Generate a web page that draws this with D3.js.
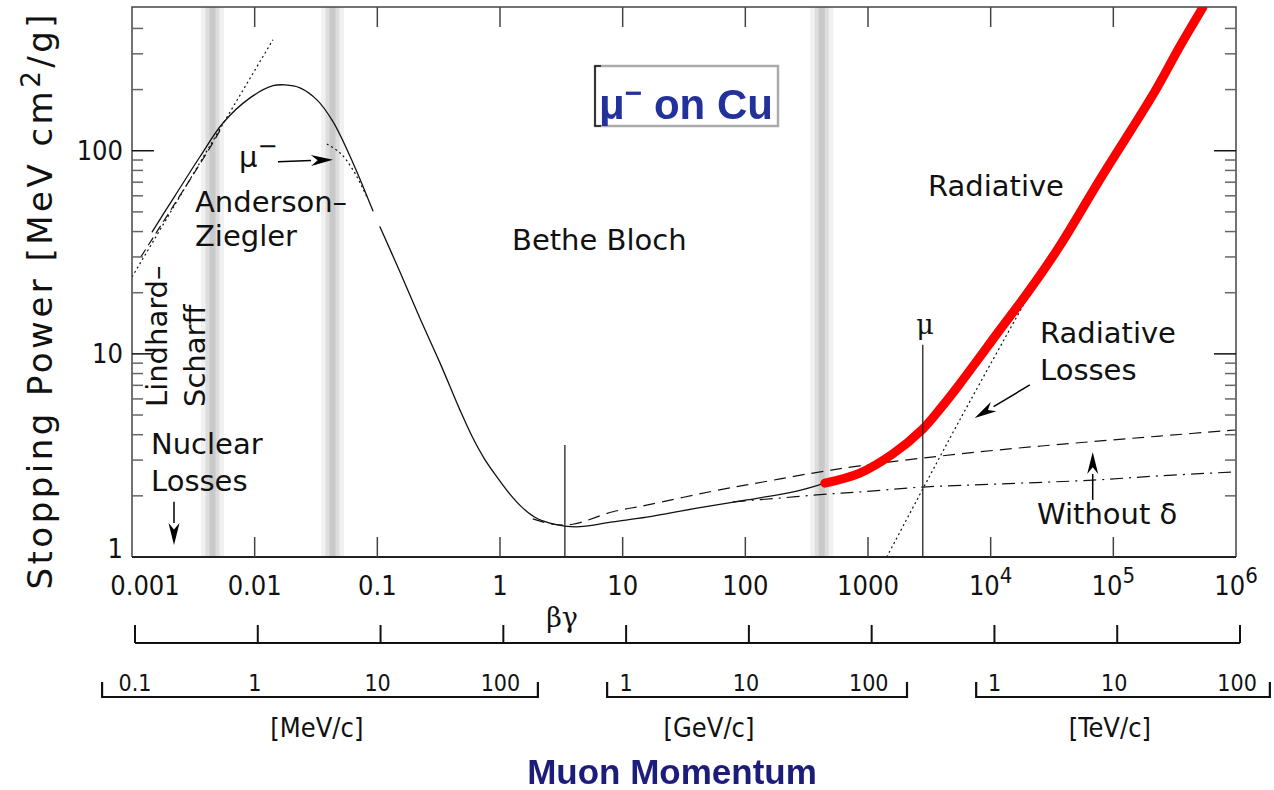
<!DOCTYPE html>
<html>
<head>
<meta charset="utf-8">
<script src="https://cdn.jsdelivr.net/npm/d3@7"></script>
<style>
body { margin: 0; background: #fff; }
svg { display: block; }
.tlabel { font-family: "DejaVu Sans Condensed", "DejaVu Sans", sans-serif; font-size: 27px; fill: #111; }
.plabel { font-family: "DejaVu Sans Condensed", "DejaVu Sans", sans-serif; font-size: 23px; fill: #111; }
.note { font-family: "DejaVu Sans", sans-serif; font-size: 29px; fill: #111; }
.serif { font-family: "DejaVu Serif", "Liberation Serif", serif; font-size: 27px; fill: #111; }
</style>
</head>
<body>
<script>
// ---- data (beta*gamma, stopping power in MeV cm2/g) ----
var aziBg   = [0.00146, 0.00224, 0.00358, 0.00552, 0.00917, 0.0141, 0.0177, 0.0234, 0.0322, 0.0435, 0.0632, 0.092];
var aziLoss = [39.9, 60.0, 93.4, 137, 182, 209, 211, 204, 178, 139, 87.3, 50.6];

var betheBg   = [0.105, 0.153, 0.222, 0.324, 0.471, 0.590, 0.740, 0.943, 1.204, 1.507, 1.923, 2.55, 3.38, 4.48, 8.32, 15.7, 40.3, 103, 263, 445];
var betheLoss = [42.2, 25.3, 15.0, 9.03, 5.30, 3.94, 3.07, 2.48, 2.04, 1.76, 1.57, 1.47, 1.42, 1.41, 1.49, 1.57, 1.74, 1.91, 2.11, 2.31];

var radBg   = [445, 857, 1592, 2797, 3990, 5600, 11860, 20850, 36580, 77450, 217400, 347400, 535300];
var radLoss = [2.31, 2.59, 3.22, 4.27, 5.48, 7.11, 13.1, 20.7, 34.0, 71.9, 195, 325, 506];

var deltaBg   = [1.85, 2.70, 3.93, 8.32, 15.7, 54.3, 139, 355, 857, 2797, 11860, 64270, 238800, 995000];
var deltaLoss = [1.54, 1.45, 1.45, 1.67, 1.80, 2.11, 2.34, 2.59, 2.81, 3.07, 3.37, 3.69, 3.94, 4.22];

var noDeltaBg   = [79.1, 191, 461, 857, 2797, 11860, 67900, 238800, 940000];
var noDeltaLoss = [1.87, 1.95, 2.04, 2.09, 2.21, 2.29, 2.39, 2.51, 2.62];

var radOnlyBg   = [1422, 5600, 22860];
var radOnlyLoss = [1.0, 4.73, 21.9];

var lindhardBg   = [0.001, 0.0141];
var lindhardLoss = [23.9, 352];

var lowDashBg   = [0.00118, 0.00432, 0.00541];
var lowDashLoss = [30.0, 103.5, 131];

var muMinusBg   = [0.0388, 0.0495, 0.0632, 0.0822];
var muMinusLoss = [108, 97.8, 80.6, 59.3];

var bandCenters = [0.00453, 0.0431, 420];
var minIonBg = 3.38, minIonTop = 3.56;
var muCritBg = 2797, muCritTop = 11.1;

// axis ticks
var bgTicks = [0.001, 0.01, 0.1, 1, 10, 100, 1000, 1e4, 1e5, 1e6];
var bgLabels = ["0.001", "0.01", "0.1", "1", "10", "100", "1000", "10^4", "10^5", "10^6"];
var lossMajor = [1, 10, 100];
var muonMass = 105.66; // MeV
var momUnits = ["MeV/c", "GeV/c", "TeV/c"];
var momScale = [1, 1000, 1e6];
var momTicks = [[0.1, 1, 10, 100], [1, 10, 100], [1, 10, 100]];
var momSpan = [[0.057, 202], [0.74, 205], [0.75, 185]];
var momUnitAt = [3.2, 5, 9.2];

// arrows [from, to] in (bg, loss)
var arrows = [
    [[0.0155, 88.3], [0.0435, 90.3]],
    [[0.0022, 1.87], [0.0022, 1.146]],
    [[20850, 7.03], [7413, 4.84]],
    [[67900, 1.91], [67900, 3.29]]
];

// ---- chart ----
var width = 1274, height = 790;
var svg = d3.select("body").append("svg")
    .attr("width", width)
    .attr("height", height);
var defs = svg.append("defs");

var x = d3.scaleLog().domain([0.001, 1e6]).range([132, 1236]);
var y = d3.scaleLog().domain([1, 510]).range([557, 7]);
var xb = d3.scaleLog().domain([0.001, 1e6]).range([135, 1240]);

var plotTop = y.range()[1], plotBottom = y.range()[0], plotLeft = x.range()[0], plotRight = x.range()[1];

defs.append("clipPath").attr("id", "plot")
    .append("rect").attr("x", plotLeft).attr("y", plotTop)
    .attr("width", plotRight - plotLeft).attr("height", plotBottom - plotTop);

//grey bands
var bandLayers = [[23, "#f1f1f1"], [14, "#dddddd"], [6, "#c9c9c9"]];
bandCenters.forEach(function(c) {
    bandLayers.forEach(function(l) {
        svg.append("rect")
            .attr("x", x(c) - l[0] / 2).attr("y", plotTop)
            .attr("width", l[0]).attr("height", plotBottom - plotTop)
            .attr("fill", l[1]);
    });
});

var line = d3.line()
    .x(function(d) { return x(d[0]); })
    .y(function(d) { return y(d[1]); })
    .curve(d3.curveCatmullRom.alpha(0.5));

function drawCurve(bg, loss, stroke, w, dash) {
    svg.append("path")
        .datum(d3.zip(bg, loss))
        .attr("clip-path", "url(#plot)")
        .attr("d", line)
        .attr("fill", "none")
        .attr("stroke", stroke)
        .attr("stroke-width", w)
        .attr("stroke-linecap", dash ? "butt" : "round")
        .attr("stroke-dasharray", dash || null);
}

drawCurve(lindhardBg, lindhardLoss, "#111", 1.2, "2,3");
drawCurve(lowDashBg, lowDashLoss, "#111", 1.2, "9,5");
drawCurve(muMinusBg, muMinusLoss, "#111", 1.2, "2,3");
drawCurve(aziBg, aziLoss, "#111", 1.3);
drawCurve(betheBg, betheLoss, "#111", 1.3);
drawCurve(deltaBg, deltaLoss, "#111", 1.2, "12,7");
drawCurve(noDeltaBg, noDeltaLoss, "#111", 1.2, "13,6,2,6");
drawCurve(radOnlyBg, radOnlyLoss, "#111", 1.2, "2,3");
drawCurve(radBg, radLoss, "#ff0000", 9);

//vertical markers
[[minIonBg, minIonTop], [muCritBg, muCritTop]].forEach(function(m) {
    svg.append("line")
        .attr("x1", x(m[0])).attr("x2", x(m[0]))
        .attr("y1", y(m[1])).attr("y2", plotBottom)
        .attr("stroke", "#222").attr("stroke-width", 1.3);
});

//arrows
arrows.forEach(function(a) {
    var x1 = x(a[0][0]), y1 = y(a[0][1]), x2 = x(a[1][0]), y2 = y(a[1][1]);
    var ang = Math.atan2(y2 - y1, x2 - x1), len = 22, hw = 5.5;
    var bx = x2 - len * Math.cos(ang), by = y2 - len * Math.sin(ang);
    svg.append("line")
        .attr("x1", x1).attr("y1", y1).attr("x2", bx).attr("y2", by)
        .attr("stroke", "#000").attr("stroke-width", 1.5);
    svg.append("path")
        .attr("d", "M" + x2 + "," + y2 +
            "L" + (bx + hw * Math.sin(ang)) + "," + (by - hw * Math.cos(ang)) +
            "L" + (bx + 0.3 * len * Math.cos(ang)) + "," + (by + 0.3 * len * Math.sin(ang)) +
            "L" + (bx - hw * Math.sin(ang)) + "," + (by + hw * Math.cos(ang)) + "Z")
        .attr("fill", "#000");
});

//frame
svg.append("path")
    .attr("d", "M" + plotLeft + "," + plotBottom + "V" + plotTop + "H" + plotRight + "V" + plotBottom)
    .attr("fill", "none").attr("stroke", "#444").attr("stroke-width", 1.5);
svg.append("line")
    .attr("x1", plotLeft).attr("x2", plotRight).attr("y1", plotBottom).attr("y2", plotBottom)
    .attr("stroke", "#222").attr("stroke-width", 2.2);

//x ticks top & bottom
bgTicks.slice(1, -1).forEach(function(t) {
    svg.append("line").attr("x1", x(t)).attr("x2", x(t)).attr("y1", plotBottom).attr("y2", plotBottom - 20)
        .attr("stroke", "#444").attr("stroke-width", 1.5);
    svg.append("line").attr("x1", x(t)).attr("x2", x(t)).attr("y1", plotTop).attr("y2", plotTop + 20)
        .attr("stroke", "#444").attr("stroke-width", 1.5);
});

//y ticks left & right
y.ticks().forEach(function(t) {
    if (t <= 1 || t >= 500) return;
    var major = lossMajor.indexOf(t) >= 0;
    var len = major ? 22 : 11;
    svg.append("line").attr("x1", plotLeft).attr("x2", plotLeft + len).attr("y1", y(t)).attr("y2", y(t))
        .attr("stroke", major ? "#111" : "#666").attr("stroke-width", 1.5);
    svg.append("line").attr("x1", plotRight).attr("x2", plotRight - len).attr("y1", y(t)).attr("y2", y(t))
        .attr("stroke", major ? "#111" : "#666").attr("stroke-width", 1.5);
});

//x tick labels
bgTicks.forEach(function(t, i) {
    var parts = bgLabels[i].split("^");
    var txt = svg.append("text").attr("class", "tlabel")
        .attr("x", x(t) + (i === 0 ? 13 : 0)).attr("y", 595)
        .attr("text-anchor", "middle");
    txt.append("tspan").text(parts[0]);
    if (parts[1]) txt.append("tspan").attr("dy", -12).attr("font-size", 22).text(parts[1]);
});

//y tick labels
lossMajor.forEach(function(t) {
    svg.append("text").attr("class", "tlabel")
        .attr("x", 123).attr("y", Math.min(y(t) + 9, 558))
        .attr("text-anchor", "end")
        .text(t);
});

//y title
svg.append("text")
    .attr("transform", "translate(52,302) rotate(-90)")
    .attr("text-anchor", "middle")
    .attr("font-family", "DejaVu Sans, sans-serif")
    .attr("font-size", 34)
    .attr("fill", "#111")
    .attr("textLength", 575)
    .attr("lengthAdjust", "spacing")
    .call(function(t) {
        t.append("tspan").text("Stopping Power [MeV cm");
        t.append("tspan").attr("dy", -12).attr("font-size", 26).text("2");
        t.append("tspan").attr("dy", 12).text("/g]");
    });

//beta-gamma bracket
var bracketY = 643;
svg.append("line").attr("x1", xb(0.001)).attr("x2", xb(1e6)).attr("y1", bracketY).attr("y2", bracketY)
    .attr("stroke", "#111").attr("stroke-width", 2);
bgTicks.forEach(function(t) {
    svg.append("line").attr("x1", xb(t)).attr("x2", xb(t)).attr("y1", bracketY).attr("y2", bracketY - 18)
        .attr("stroke", "#111").attr("stroke-width", 2);
});
svg.append("text").attr("class", "serif")
    .attr("x", 562).attr("y", 627).attr("text-anchor", "middle").text("βγ");

//momentum brackets
var momY = 697;
momUnits.forEach(function(u, i) {
    var toX = function(p) { return xb(p * momScale[i] / muonMass); };
    var x0 = toX(momSpan[i][0]), x1 = toX(momSpan[i][1]);
    svg.append("path")
        .attr("d", "M" + x0 + "," + (momY - 15) + "V" + momY + "H" + x1 + "V" + (momY - 15))
        .attr("fill", "none").attr("stroke", "#111").attr("stroke-width", 2.2);
    momTicks[i].forEach(function(p) {
        svg.append("text").attr("class", "plabel")
            .attr("x", toX(p) + (p === momTicks[i][0] ? 3 : 0)).attr("y", 691)
            .attr("text-anchor", "middle").text(p);
    });
    svg.append("text").attr("class", "tlabel")
        .attr("x", toX(momUnitAt[i])).attr("y", 737)
        .attr("text-anchor", "middle").text("[" + u + "]");
});

//Muon Momentum
var blur = defs.append("filter").attr("id", "soft");
blur.append("feGaussianBlur").attr("stdDeviation", 0.6);
svg.append("text")
    .attr("x", 672).attr("y", 784)
    .attr("text-anchor", "middle")
    .attr("font-family", "Liberation Sans, Arial, sans-serif")
    .attr("font-weight", "bold")
    .attr("font-size", 35)
    .attr("fill", "#1c1c7a")
    .attr("filter", "url(#soft)")
    .text("Muon Momentum");

//mu- on Cu box
defs.append("clipPath").attr("id", "boxclip")
    .append("rect").attr("x", 595).attr("y", 66).attr("width", 183).attr("height", 60);
svg.append("rect").attr("x", 595).attr("y", 66).attr("width", 183).attr("height", 60)
    .attr("fill", "#fff").attr("stroke", "#aaa").attr("stroke-width", 2.5);
svg.append("path").attr("d", "M601,66H595V126H601")
    .attr("fill", "none").attr("stroke", "#111").attr("stroke-width", 1.5);
svg.append("text")
    .attr("x", 599).attr("y", 119)
    .attr("clip-path", "url(#boxclip)")
    .attr("font-family", "Liberation Sans, Arial, sans-serif")
    .attr("font-weight", "bold")
    .attr("font-size", 42)
    .attr("fill", "#22309a")
    .attr("filter", "url(#soft)")
    .call(function(t) {
        t.append("tspan").text("μ");
        t.append("tspan").attr("dy", -16).attr("font-size", 30).text("−");
        t.append("tspan").attr("dy", 16).text(" on Cu");
    });

//annotations (pixel layout)
var notes = [
    ["Anderson–", 195, 212], ["Ziegler", 195, 246],
    ["Bethe Bloch", 512, 250],
    ["Radiative", 928, 196],
    ["Radiative", 1040, 343], ["Losses", 1040, 380],
    ["Without δ", 1037, 524],
    ["Nuclear", 151, 454], ["Losses", 151, 491]
];
notes.forEach(function(n) {
    svg.append("text").attr("class", "note").attr("x", n[1]).attr("y", n[2]).text(n[0]);
});
[["Lindhard–", 167], ["Scharff", 205]].forEach(function(n) {
    svg.append("text").attr("class", "note")
        .attr("transform", "translate(" + n[1] + ",407) rotate(-90)")
        .text(n[0]);
});
var muText = svg.append("text").attr("class", "note").attr("x", 239).attr("y", 167);
muText.append("tspan").text("μ");
muText.append("tspan").attr("dy", -13).attr("font-size", 24).text("−");

svg.append("text").attr("class", "serif")
    .attr("x", 925).attr("y", 334).attr("text-anchor", "middle").text("μ");
</script>
</body>
</html>
